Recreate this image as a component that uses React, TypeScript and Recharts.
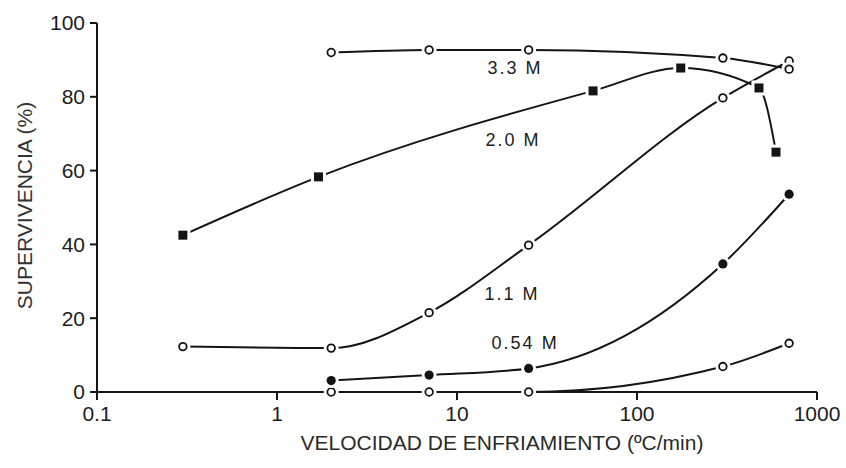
import React from "react";
import { LineChart, Line, XAxis, YAxis, ReferenceDot, Label } from "recharts";

// Cooling rate (ºC/min) and survival (%) for each concentration
const RATE_33 = [2, 7, 25, 300, 700];
const SURV_33 = [92, 92.7, 92.7, 90.5, 87.5];

const RATE_20 = [0.3, 1.7, 57, 175, 476, 592];
const SURV_20 = [42.5, 58.3, 81.6, 87.8, 82.4, 65];

const RATE_11 = [0.3, 2, 7, 25, 300, 700];
const SURV_11 = [12.3, 11.9, 21.5, 39.8, 79.7, 89.7];

const RATE_054 = [2, 7, 25, 300, 700];
const SURV_054 = [3.1, 4.6, 6.4, 34.7, 53.6];

const RATE_0 = [2, 7, 25, 300, 700];
const SURV_0 = [0, 0, 0, 6.9, 13.2];

const X_TICKS = [0.1, 1, 10, 100, 1000];
const Y_TICKS = [0, 20, 40, 60, 80, 100];

// Curve labels: text and the (rate, survival) where each one sits
const CURVE_LABELS = [
  { text: "3.3 M", rate: 21, surv: 87.8 },
  { text: "2.0 M", rate: 20.5, surv: 68.3 },
  { text: "1.1 M", rate: 20.2, surv: 26.8 },
  { text: "0.54 M", rate: 23.9, surv: 13.3 },
];

const toRows = (rates: number[], surv: number[]) =>
  rates.map((rate, i) => ({ rate, surv: surv[i] }));

const INK = "#141414";
const TEXT = "#1c1c1c";
const FONT = "'Liberation Sans', Arial, Helvetica, sans-serif";

const OpenCircle = (props: any) => {
  const { cx, cy } = props;
  if (cx == null || cy == null) return null;
  return (
    <g>
      <circle cx={cx} cy={cy} r={7.5} fill="#fff" />
      <circle cx={cx} cy={cy} r={3.8} fill="#fff" stroke={INK} strokeWidth={1.8} />
    </g>
  );
};

const FilledCircle = (props: any) => {
  const { cx, cy } = props;
  if (cx == null || cy == null) return null;
  return (
    <g>
      <circle cx={cx} cy={cy} r={7.5} fill="#fff" />
      <circle cx={cx} cy={cy} r={4.6} fill={INK} />
    </g>
  );
};

const FilledSquare = (props: any) => {
  const { cx, cy } = props;
  if (cx == null || cy == null) return null;
  return (
    <g>
      <rect x={cx - 7.5} y={cy - 7.5} width={15} height={15} fill="#fff" />
      <rect x={cx - 4.5} y={cy - 4.5} width={9} height={9} fill={INK} />
    </g>
  );
};

const XTitle = (props: any) => {
  const vb = props.viewBox || { x: 97, y: 392, width: 720 };
  return (
    <text
      x={vb.x + vb.width / 2 + 45}
      y={vb.y + 58}
      textAnchor="middle"
      fontFamily={FONT}
      fontSize={21}
      fill="#2a2a2a"
    >
      VELOCIDAD DE ENFRIAMIENTO (ºC/min)
    </text>
  );
};

const YTitle = (props: any) => {
  const vb = props.viewBox || { x: 0, y: 23, height: 369 };
  const x = 32;
  const y = vb.y + vb.height / 2 - 2;
  return (
    <text
      x={x}
      y={y}
      textAnchor="middle"
      fontFamily={FONT}
      fontSize={21}
      fill="#333"
      transform={`rotate(-90, ${x}, ${y})`}
    >
      SUPERVIVENCIA (%)
    </text>
  );
};

const CurveLabel = (text: string) => (props: any) => {
  const vb = props.viewBox || {};
  const cx = vb.cx ?? vb.x;
  const cy = vb.cy ?? vb.y;
  return (
    <text
      x={cx}
      y={cy}
      dy="0.36em"
      textAnchor="middle"
      fontFamily={FONT}
      fontSize={18}
      letterSpacing={2}
      fill={TEXT}
    >
      {text}
    </text>
  );
};

const lineProps = {
  dataKey: "surv",
  type: "monotone" as const,
  stroke: INK,
  strokeWidth: 2,
  isAnimationActive: false,
  activeDot: false as const,
};

export default function App() {
  return (
    <div style={{ position: "fixed", left: 0, top: 0, background: "#fff" }}>
      <LineChart
        width={846}
        height={468}
        margin={{ top: 23, right: 29, bottom: 0, left: 0 }}
      >
        <XAxis
          dataKey="rate"
          type="number"
          scale="log"
          domain={[0.1, 1000]}
          ticks={X_TICKS}
          allowDataOverflow
          height={76}
          tickSize={8}
          tickMargin={6}
          tickFormatter={(v: number) => String(v)}
          stroke={INK}
          strokeWidth={2}
          tick={{ fill: TEXT, fontSize: 21, fontFamily: FONT }}
        >
          <Label content={<XTitle />} />
        </XAxis>
        <YAxis
          type="number"
          domain={[0, 100]}
          ticks={Y_TICKS}
          width={97}
          tickSize={7}
          tickMargin={5}
          stroke={INK}
          strokeWidth={2}
          tick={{ fill: TEXT, fontSize: 21, fontFamily: FONT }}
        >
          <Label content={<YTitle />} />
        </YAxis>

        <Line {...lineProps} data={toRows(RATE_0, SURV_0)} dot={<OpenCircle />} />
        <Line {...lineProps} data={toRows(RATE_054, SURV_054)} dot={<FilledCircle />} />
        <Line {...lineProps} data={toRows(RATE_11, SURV_11)} dot={<OpenCircle />} />
        <Line {...lineProps} data={toRows(RATE_20, SURV_20)} dot={<FilledSquare />} />
        <Line {...lineProps} data={toRows(RATE_33, SURV_33)} dot={<OpenCircle />} />

        {CURVE_LABELS.map((l) => (
          <ReferenceDot
            key={l.text}
            x={l.rate}
            y={l.surv}
            r={0}
            fill="none"
            stroke="none"
            label={CurveLabel(l.text)}
          />
        ))}
      </LineChart>
    </div>
  );
}
